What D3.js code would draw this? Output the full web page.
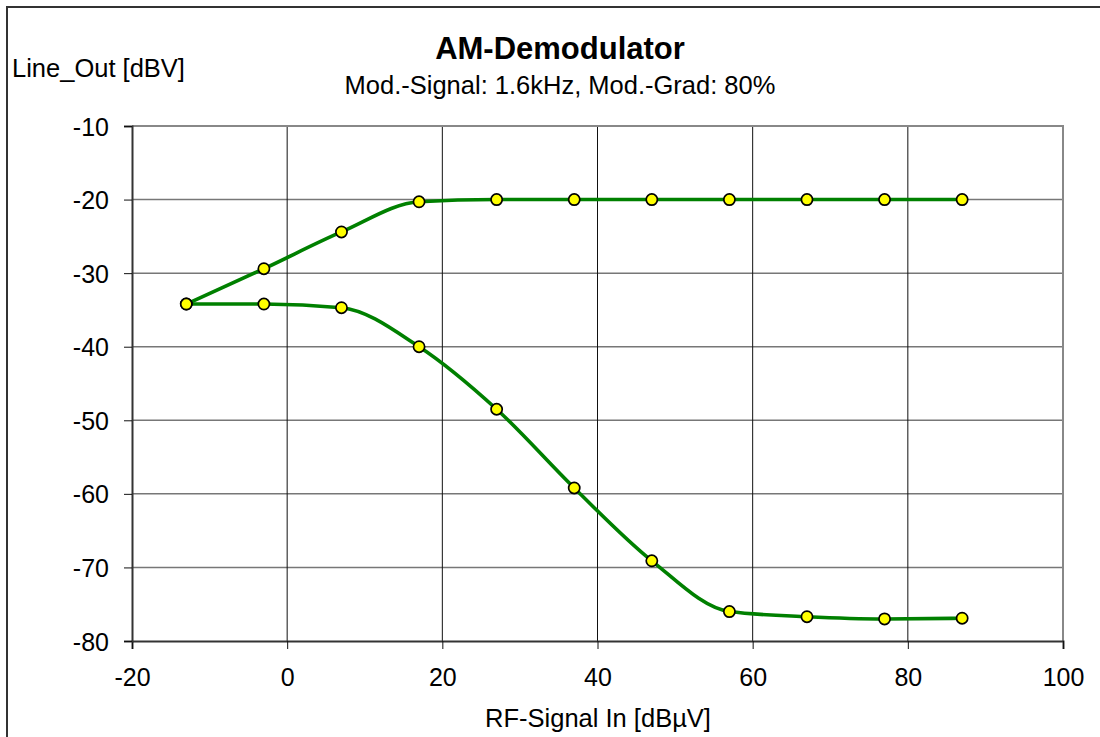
<!DOCTYPE html>
<html><head><meta charset="utf-8">
<script src="https://cdn.jsdelivr.net/npm/d3@7"></script>
<style>body{margin:0;background:#fff}svg{display:block}text{font-family:"Liberation Sans",Arial,sans-serif}</style>
</head><body>
<script>
const xValues = [-13, -3, 7, 17, 27, 37, 47, 57, 67, 77, 87];
const upperValues = [-34.2, -29.4, -24.4, -20.3, -20.0, -20.0, -20.0, -20.0, -20.0, -20.0, -20.0];
const lowerValues = [-34.2, -34.2, -34.7, -40.0, -48.5, -59.2, -69.1, -76.0, -76.7, -77.0, -76.9];
const xTicks = [-20, 0, 20, 40, 60, 80, 100];
const yTicks = [-10, -20, -30, -40, -50, -60, -70, -80];

const W = 1100, H = 737;
const svg = d3.select("body").append("svg").attr("width", W).attr("height", H);
const L = 132, R = 1063, T = 126, B = 641;
const x = d3.scaleLinear().domain([-20, 100]).range([L, R]);
const y = d3.scaleLinear().domain([-80, -10]).range([B, T]);

// outer frame
svg.append("path").attr("d", `M7,${H+2} L7,7 L${W+2},7`).attr("fill","none").attr("stroke","#333").attr("stroke-width",2);

// horizontal gridlines
svg.append("g").selectAll("line").data(yTicks.filter(v => v !== -80 && v !== -10)).join("line")
  .attr("x1", L).attr("x2", R).attr("y1", d => y(d)).attr("y2", d => y(d))
  .attr("stroke", "#777").attr("stroke-width", 1.5);
// vertical gridlines
svg.append("g").selectAll("line").data(xTicks.filter(v => v !== -20 && v !== 100)).join("line")
  .attr("x1", d => x(d)).attr("x2", d => x(d)).attr("y1", T).attr("y2", B)
  .attr("stroke", "#111").attr("stroke-width", 1);
// plot border top/right
svg.append("path").attr("d", `M${L},${T} L${R},${T} L${R},${B}`).attr("fill","none").attr("stroke","#888").attr("stroke-width",2);

// axes
const fmt = d => String(d);
const xAxis = svg.append("g").attr("transform", `translate(0,${B})`)
  .call(d3.axisBottom(x).tickValues(xTicks).tickSize(8).tickPadding(19).tickFormat(fmt));
const yAxis = svg.append("g").attr("transform", `translate(${L},0)`)
  .call(d3.axisLeft(y).tickValues(yTicks).tickSize(8).tickPadding(15).tickFormat(fmt));
[xAxis, yAxis].forEach(g => {
  g.attr("font-size", 25).attr("font-family", '"Liberation Sans",Arial,sans-serif');
  g.select(".domain").attr("stroke", "#333").attr("stroke-width", 2);
  g.selectAll(".tick line").attr("stroke", "#111").attr("stroke-width", 1);
  g.selectAll(".tick text").attr("fill", "#000");
});
yAxis.selectAll(".tick text").attr("dy", "0.36em");

// lines
const line = d3.line().x(d => x(d[0])).y(d => y(d[1])).curve(d3.curveMonotoneX);
const series = [upperValues, lowerValues];
series.forEach(vals => {
  const pts = xValues.map((v, i) => [v, vals[i]]);
  svg.append("path").datum(pts).attr("d", line).attr("fill", "none").attr("stroke", "#008000").attr("stroke-width", 3.6);
});
series.forEach(vals => {
  svg.append("g").selectAll("circle").data(xValues.map((v, i) => [v, vals[i]])).join("circle")
    .attr("cx", d => x(d[0])).attr("cy", d => y(d[1])).attr("r", 5.6)
    .attr("fill", "#ffff00").attr("stroke", "#000").attr("stroke-width", 1.7);
});

// texts
svg.append("text").attr("x", 560).attr("y", 59).attr("text-anchor","middle").attr("font-size",31).attr("font-weight","bold").text("AM-Demodulator");
svg.append("text").attr("x", 560).attr("y", 94).attr("text-anchor","middle").attr("font-size",25.5).text("Mod.-Signal: 1.6kHz, Mod.-Grad: 80%");
svg.append("text").attr("x", 12).attr("y", 77).attr("font-size",25.5).text("Line_Out [dBV]");
svg.append("text").attr("x", 598).attr("y", 727).attr("text-anchor","middle").attr("font-size",25.5).text("RF-Signal In [dBµV]");
</script>
</body></html>
